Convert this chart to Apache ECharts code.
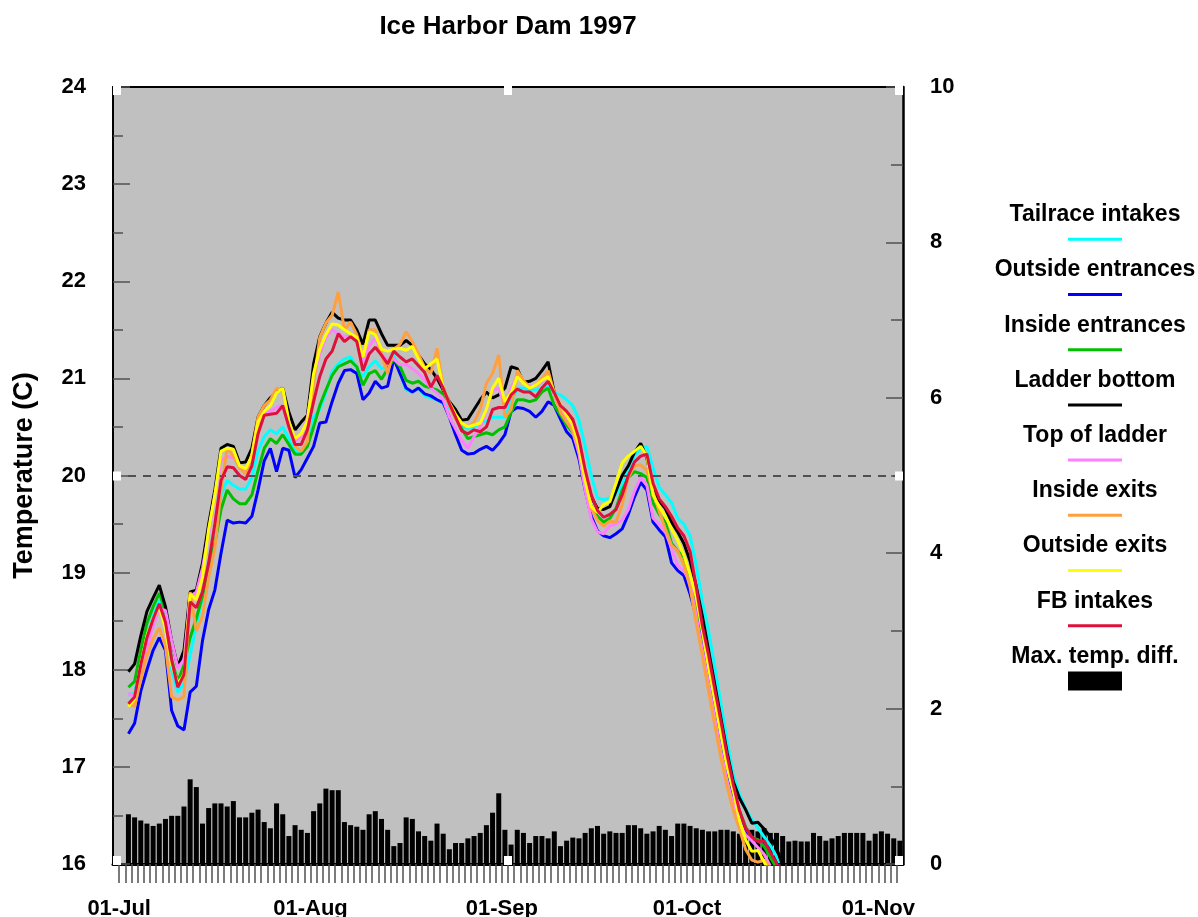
<!DOCTYPE html>
<html><head><meta charset="utf-8">
<script src="https://cdn.jsdelivr.net/npm/echarts@6/dist/echarts.min.js"></script>
<style>html,body{margin:0;padding:0;background:#fff}#c{width:1198px;height:917px}</style>
</head><body><div id="c"></div>
<script>
// ---------- data ----------
const axisStartDate = '1997-06-30';
const axisEndDate = '1997-11-05';
const firstDataDate = '1997-07-02';
const monthTickDates = ['1997-07-01','1997-08-01','1997-09-01','1997-10-01','1997-11-01'];
const monthTickLabels = ['01-Jul','01-Aug','01-Sep','01-Oct','01-Nov'];
const refTemp = 20;

const tailraceIntakes = [17.74,17.76,18.05,18.35,18.55,18.72,18.55,18.0,17.77,17.86,
18.15,18.45,18.75,19.1,19.42,19.8,19.95,19.9,19.86,19.86,
19.98,20.25,20.4,20.47,20.43,20.5,20.38,20.25,20.22,20.35,
20.6,20.68,20.85,21.07,21.15,21.2,21.22,21.1,21.02,21.12,
21.18,21.1,21.12,21.24,21.05,20.88,20.86,20.9,20.82,20.8,
20.78,20.74,20.7,20.62,20.52,20.48,20.5,20.54,20.56,20.6,
20.6,20.6,20.75,20.9,20.9,20.88,20.88,20.9,20.93,20.85,
20.83,20.78,20.72,20.57,20.3,20.0,19.77,19.75,19.77,19.8,
19.9,20.08,20.2,20.28,20.3,20.08,19.88,19.8,19.72,19.56,
19.5,19.38,19.08,18.7,18.4,18.03,17.65,17.27,16.92,16.72,
16.57,16.46,16.37,16.28,16.19,16.08,15.95];

const outsideEntrances = [17.34,17.45,17.78,18.0,18.2,18.33,18.2,17.58,17.42,17.38,
17.77,17.83,18.3,18.62,18.82,19.2,19.54,19.51,19.52,19.51,
19.58,19.85,20.15,20.28,20.04,20.28,20.26,19.98,20.06,20.18,
20.3,20.54,20.55,20.76,20.95,21.08,21.09,21.05,20.78,20.85,
20.97,20.9,20.92,21.2,21.05,20.9,20.86,20.9,20.84,20.82,
20.78,20.75,20.6,20.42,20.26,20.22,20.23,20.27,20.3,20.26,
20.33,20.42,20.66,20.7,20.69,20.66,20.6,20.66,20.76,20.72,
20.58,20.45,20.38,20.17,19.85,19.58,19.43,19.38,19.36,19.4,
19.45,19.6,19.78,19.93,19.85,19.52,19.44,19.37,19.1,19.02,
18.97,18.78,18.55,18.3,17.98,17.65,17.3,16.98,16.72,16.52,
16.36,16.26,16.24,16.2,16.1,15.99,15.9];

const insideEntrances = [17.82,17.88,18.2,18.48,18.65,18.79,18.6,18.1,17.88,18.05,
18.33,18.53,18.76,19.05,19.3,19.65,19.85,19.76,19.71,19.71,
19.8,20.05,20.28,20.38,20.33,20.42,20.32,20.22,20.22,20.3,
20.5,20.72,20.88,21.03,21.12,21.15,21.18,21.12,20.93,21.05,
21.08,20.99,21.1,21.2,21.12,20.98,20.95,20.97,20.92,20.9,
20.88,20.84,20.75,20.6,20.48,20.38,20.4,20.42,20.44,20.42,
20.47,20.5,20.65,20.78,20.78,20.76,20.78,20.86,20.9,20.72,
20.62,20.52,20.44,20.25,19.92,19.68,19.58,19.52,19.56,19.66,
19.85,19.98,20.04,20.02,19.98,19.72,19.6,19.52,19.3,19.22,
19.16,18.97,18.68,18.38,18.05,17.7,17.35,17.02,16.75,16.55,
16.38,16.27,16.25,16.18,16.07,15.96];

const ladderBottom = [17.98,18.06,18.35,18.6,18.74,18.87,18.65,18.3,18.03,18.2,
18.8,18.82,19.1,19.5,19.85,20.28,20.32,20.3,20.13,20.14,
20.28,20.6,20.72,20.8,20.86,20.9,20.65,20.47,20.55,20.62,
21.15,21.43,21.57,21.68,21.62,21.6,21.6,21.5,21.35,21.6,
21.6,21.46,21.34,21.34,21.34,21.39,21.34,21.24,21.15,21.09,
21.0,20.88,20.76,20.68,20.57,20.58,20.68,20.78,20.86,20.8,
20.83,20.9,21.12,21.1,20.96,20.97,21.0,21.08,21.17,20.85,
20.7,20.62,20.55,20.3,20.0,19.78,19.66,19.65,19.68,19.84,
20.0,20.1,20.24,20.33,20.18,19.86,19.74,19.66,19.52,19.42,
19.3,19.12,18.86,18.55,18.2,17.85,17.5,17.15,16.85,16.68,
16.56,16.42,16.43,16.36,16.28,16.17,15.98];

const topOfLadder = [17.76,17.72,17.95,18.22,18.45,18.63,18.61,18.3,18.02,18.1,
18.75,18.8,19.05,19.4,19.8,20.15,20.2,20.18,20.1,20.05,
20.2,20.55,20.64,20.66,20.7,20.72,20.5,20.35,20.4,20.6,
21.0,21.25,21.42,21.5,21.46,21.43,21.43,21.4,21.17,21.33,
21.42,21.25,21.18,21.2,21.14,21.14,21.1,21.05,20.98,20.9,
20.85,20.78,20.6,20.48,20.36,20.28,20.4,20.5,20.67,20.88,
20.9,20.7,20.9,21.02,20.97,20.92,20.92,20.97,21.03,20.82,
20.68,20.58,20.45,20.22,19.85,19.55,19.42,19.4,19.48,19.5,
19.54,19.65,19.84,19.98,19.9,19.56,19.5,19.42,19.25,19.07,
19.02,18.9,18.55,18.2,17.85,17.5,17.15,16.85,16.6,16.42,
16.3,16.24,16.17,16.1,15.98];

const insideExits = [17.65,17.62,17.9,18.15,18.32,18.43,18.24,17.72,17.69,17.72,
18.8,18.4,18.55,18.95,19.25,19.85,20.28,20.2,20.08,20.02,
20.22,20.6,20.72,20.78,20.9,20.88,20.55,20.3,20.25,20.35,
20.95,21.42,21.57,21.65,21.89,21.5,21.58,21.45,21.22,21.5,
21.5,21.25,21.05,21.3,21.35,21.48,21.38,21.25,21.11,21.05,
21.31,20.9,20.72,20.58,20.53,20.5,20.55,20.68,20.95,21.05,
21.24,20.6,20.68,21.08,20.98,20.9,20.93,21.0,21.08,20.85,
20.65,20.55,20.46,20.28,19.96,19.66,19.54,19.48,19.53,19.52,
19.7,19.98,20.1,20.11,20.05,19.83,19.63,19.45,19.28,19.22,
19.08,18.85,18.48,18.14,17.78,17.43,17.09,16.8,16.55,16.36,
16.15,16.04,16.02,16.04,15.97];

const outsideExits = [17.62,17.7,18.05,18.35,18.52,18.65,18.42,18.05,17.86,17.95,
18.78,18.72,18.95,19.45,19.8,20.25,20.28,20.27,20.1,20.07,
20.2,20.55,20.66,20.72,20.85,20.9,20.55,20.38,20.43,20.56,
21.05,21.3,21.45,21.56,21.55,21.5,21.46,21.42,21.22,21.48,
21.45,21.3,21.28,21.3,21.31,21.29,21.33,21.2,21.1,21.15,
21.2,20.9,20.75,20.63,20.54,20.5,20.52,20.54,20.68,20.9,
21.0,20.76,20.85,21.02,20.95,20.9,20.93,20.98,21.02,20.85,
20.73,20.62,20.52,20.3,19.95,19.68,19.62,19.7,19.73,19.92,
20.13,20.2,20.25,20.3,20.2,19.8,19.68,19.58,19.45,19.33,
19.18,18.98,18.75,18.4,18.02,17.68,17.33,17.0,16.75,16.45,
16.25,16.13,16.14,16.02,15.9];

const fbIntakes = [17.65,17.72,18.05,18.33,18.52,18.68,18.49,18.1,17.82,17.95,
18.7,18.64,18.8,19.1,19.5,19.95,20.09,20.08,20.0,19.96,
20.1,20.43,20.62,20.63,20.64,20.72,20.5,20.32,20.32,20.47,
20.76,21.02,21.2,21.28,21.46,21.38,21.43,21.38,21.08,21.25,
21.32,21.24,21.15,21.28,21.22,21.17,21.2,21.13,21.06,20.91,
21.03,20.9,20.74,20.6,20.46,20.43,20.47,20.45,20.5,20.68,
20.7,20.7,20.83,20.89,20.86,20.86,20.81,20.9,20.97,20.85,
20.72,20.66,20.58,20.38,20.06,19.8,19.64,19.57,19.6,19.65,
19.8,20.0,20.14,20.2,20.22,19.92,19.76,19.68,19.58,19.46,
19.38,19.22,18.85,18.45,18.15,17.8,17.47,17.12,16.82,16.55,
16.37,16.28,16.23,16.24,16.12,16.01,15.9];

const maxTempDiff = [0.64,0.60,0.56,0.52,0.49,0.52,0.58,0.62,0.62,0.74,
1.09,0.99,0.52,0.72,0.78,0.78,0.74,0.81,0.60,0.60,
0.66,0.70,0.54,0.46,0.78,0.64,0.36,0.50,0.44,0.40,
0.68,0.78,0.97,0.95,0.95,0.54,0.50,0.48,0.44,0.64,
0.68,0.58,0.44,0.23,0.27,0.60,0.58,0.42,0.36,0.30,
0.52,0.39,0.19,0.27,0.27,0.33,0.36,0.40,0.50,0.66,
0.91,0.44,0.25,0.44,0.40,0.27,0.36,0.36,0.33,0.42,
0.23,0.30,0.34,0.33,0.40,0.46,0.49,0.39,0.42,0.40,
0.40,0.50,0.50,0.46,0.39,0.42,0.49,0.44,0.36,0.52,
0.52,0.49,0.46,0.44,0.42,0.42,0.44,0.44,0.42,0.39,
0.46,0.44,0.42,0.46,0.40,0.40,0.36,0.29,0.30,0.29,
0.29,0.40,0.36,0.30,0.33,0.36,0.40,0.40,0.40,0.40,
0.30,0.39,0.42,0.39,0.33,0.30];

const seriesNames = ['Tailrace intakes','Outside entrances','Inside entrances','Ladder bottom',
  'Top of ladder','Inside exits','Outside exits','FB intakes'];
const seriesValues = [tailraceIntakes,outsideEntrances,insideEntrances,ladderBottom,
  topOfLadder,insideExits,outsideExits,fbIntakes];
const barName = 'Max. temp. diff.';

// ---------- styles / layout ----------
const seriesColors = ['#00ffff','#0000ff','#00c000','#000000','#ff80ff','#ffa040','#ffff00','#e0103c'];
const FONT = "'Liberation Sans', Arial, Helvetica, sans-serif";
const G = {left: 113, right: 295, top: 87, bottom: 53};
const plotW = 1198 - G.left - G.right, plotH = 917 - G.top - G.bottom;
const LEG = {left: 1068, top: 239.3, iconW: 54, lineH: 3, barH: 19, step: 55.2, textDy: -24.5};

const DAY = 86400000;
const dayOf = s => (Date.parse(s + 'T00:00:00Z') - Date.parse(axisStartDate + 'T00:00:00Z')) / DAY;
const xFirst = dayOf(firstDataDate) + 0.5;   // noon of each day
const toPts = arr => arr.map((v, i) => [xFirst + i, v]);
const labelMap = {};
monthTickDates.forEach((d, k) => { labelMap[dayOf(d)] = monthTickLabels[k]; });

const lineSeries = seriesNames.map((n, k) => ({
  name: n, type: 'line', data: toPts(seriesValues[k]), yAxisIndex: 0,
  symbol: 'none', showSymbol: false, clip: true, z: 3 + k,
  lineStyle: {color: seriesColors[k], width: 3}, itemStyle: {color: seriesColors[k]},
  markLine: k === 0 ? {silent: true, symbol: 'none', label: {show: false},
    lineStyle: {color: '#505050', width: 2, type: [8, 7]}, data: [{yAxis: refTemp}]} : undefined
}));

const barSeries = {name: barName, type: 'bar', yAxisIndex: 1, data: toPts(maxTempDiff),
  barWidth: 5, itemStyle: {color: '#000'}, z: 2};

const tickStyle = {color: '#505050', width: 1.5};
const labelStyle = {color: '#000', fontSize: 22, fontWeight: 'bold', fontFamily: FONT};

// white registration squares at the corners and midpoints of the frame
const sq = 8;
const squarePos = [[0,0],[0.5,0],[1,0],[0,0.5],[1,0.5],[0,1],[0.5,1],[1,1]];
const squares = squarePos.map(([fx, fy]) => ({
  type: 'rect', z: 100, silent: true,
  shape: {x: G.left + fx * plotW - (fx === 1 ? sq : fx === 0 ? 0 : sq / 2),
          y: G.top + fy * plotH - (fy === 1 ? sq : fy === 0 ? 0 : sq / 2) + (fy === 0 ? -1 : 0),
          width: sq, height: sq + 1},
  style: {fill: '#fff'}
}));

const legendTexts = seriesNames.concat([barName]).map((n, k) => ({
  type: 'text', z: 100, silent: true,
  style: {text: n, x: LEG.left + LEG.iconW / 2, y: LEG.top + LEG.step * k + LEG.textDy,
          align: 'center', verticalAlign: 'middle', textAlign: 'center', textVerticalAlign: 'middle',
          font: 'bold 23px ' + FONT, fill: '#000'}
}));

const chart = echarts.init(document.getElementById('c'), null, {renderer: 'canvas'});
chart.setOption({
  animation: false,
  backgroundColor: '#fff',
  title: {text: 'Ice Harbor Dam 1997', left: G.left + plotW / 2, top: 14, textAlign: 'center', padding: 0,
    textStyle: {fontSize: 26, fontWeight: 'bold', fontFamily: FONT, color: '#000'}},
  grid: {left: G.left, right: G.right, top: G.top, bottom: G.bottom, show: true,
    containLabel: false, outerBoundsMode: 'none',
    backgroundColor: '#c0c0c0', borderWidth: 0},
  legend: [{
    orient: 'vertical', left: LEG.left, top: LEG.top - LEG.lineH / 2, padding: 0,
    itemWidth: LEG.iconW, itemHeight: LEG.lineH, itemGap: LEG.step - LEG.lineH,
    formatter: () => '', selectedMode: false, textStyle: {fontSize: 2, lineHeight: 2},
    data: seriesNames.map(n => ({name: n, icon: 'rect'}))
  }, {
    orient: 'vertical', left: LEG.left, top: LEG.top + LEG.step * seriesNames.length - LEG.barH / 2, padding: 0,
    itemWidth: LEG.iconW, itemHeight: LEG.barH,
    formatter: () => '', selectedMode: false, textStyle: {fontSize: 2, lineHeight: 2},
    data: [{name: barName, icon: 'rect'}]
  }],
  xAxis: [{
    type: 'value', min: dayOf(axisStartDate), max: dayOf(axisEndDate), interval: 1,
    position: 'bottom', z: 5,
    axisLine: {show: true, onZero: false, lineStyle: {color: '#000', width: 3}},
    axisTick: {show: true, length: 19, lineStyle: tickStyle},
    splitLine: {show: false},
    axisLabel: Object.assign({}, labelStyle, {margin: 34, formatter: v => labelMap[v] || '',
      showMinLabel: false, showMaxLabel: false, hideOverlap: false})
  }, {
    type: 'value', min: dayOf(axisStartDate), max: dayOf(axisEndDate), position: 'top', z: 5,
    axisLine: {show: true, onZero: false, lineStyle: {color: '#000', width: 2}},
    axisTick: {show: false}, axisLabel: {show: false}, splitLine: {show: false}
  }],
  yAxis: [{
    type: 'value', min: 16, max: 24, interval: 1, position: 'left', z: 5,
    axisLine: {show: true, onZero: false, lineStyle: {color: '#000', width: 2}},
    axisTick: {show: true, inside: true, length: 17, lineStyle: tickStyle},
    minorTick: {show: true, splitNumber: 2, length: 10, lineStyle: tickStyle},
    splitLine: {show: false},
    axisLabel: Object.assign({}, labelStyle, {margin: 27}),
    name: 'Temperature (C)', nameLocation: 'middle', nameGap: 75,
    nameTextStyle: {fontSize: 27, fontWeight: 'bold', fontFamily: FONT, color: '#000'}
  }, {
    type: 'value', min: 0, max: 10, interval: 2, position: 'right', z: 5,
    axisLine: {show: true, onZero: false, lineStyle: {color: '#000', width: 2.5}},
    axisTick: {show: true, inside: true, length: 17, lineStyle: tickStyle},
    minorTick: {show: true, splitNumber: 2, length: 12, lineStyle: tickStyle},
    splitLine: {show: false},
    axisLabel: Object.assign({}, labelStyle, {margin: 27})
  }],
  series: [barSeries].concat(lineSeries),
  graphic: squares.concat(legendTexts)
});
</script>
</body></html>
